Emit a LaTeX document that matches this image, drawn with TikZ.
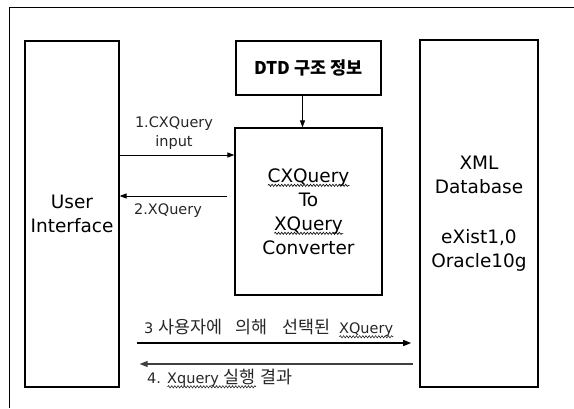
\documentclass[tikz,border=0pt]{standalone}
\usepackage{fontspec}
\setmainfont{DejaVu Sans}
\newfontfamily\kr{Noto Sans CJK KR}[Scale=1.2]
\newfontfamily\krb{Noto Sans CJK KR}
\usepackage{tikz}
\usetikzlibrary{arrows.meta,positioning,decorations.pathmorphing}
\tikzset{
  box/.style={draw,line width=1.2pt,inner sep=0pt,align=center,
    font=\fontsize{18.5}{24}\selectfont},
  lbl/.style={inner sep=1pt,align=center,text=black!85,
    font=\fontsize{14.5}{19}\selectfont},
  arr/.style={-{Triangle[length=7pt,width=5pt]},line width=1pt},
  arrb/.style={-{Triangle[length=8pt,width=6pt]},line width=1.3pt},
  squig/.style={line width=0.6pt,decorate,
    decoration={snake,amplitude=1.1pt,segment length=3.2pt}},
}
% wavy underline, as a spell checker draws it
\newcommand\wavy[1]{\setbox0\hbox{#1}%
  \rlap{\smash{\raisebox{-4.5pt}{\tikz\draw[squig] (0pt,0pt) -- (\the\wd0,0pt);}}}\box0\relax}

\begin{document}
\begin{tikzpicture}[x=1pt,y=-1pt]
    \useasboundingbox (0,0) rectangle (574,408);
    % outer frame (cut at right and bottom)
    \draw[line width=1pt] (574,7) -- (9,7) -- (9,408);
    % boxes
    \node[box,minimum width=94pt,minimum height=346pt] (ui) at (72,214)
      {User\\Interface};
    \node[box,minimum width=145pt,minimum height=54pt] (dtd) at (308.5,68)
      {\krb\fontsize{17.5}{20}\selectfont\bfseries DTD 구조 정보};
    \node[box,minimum width=147pt,minimum height=167pt] (conv) at (308.5,211.5)
      {\wavy{CXQuery}\\To\\\wavy{XQuery}\\Converter};
    \node[box,line width=1.6pt,minimum width=118pt,minimum height=347pt] (db) at (479,213.5)
      {XML\\Database\\[26pt]eXist1,0\\Oracle10g};
    % levels of the arrows
    \coordinate (q1) at (0,155);
    \coordinate (q2) at (0,196);
    \coordinate (q3) at (0,343);
    \coordinate (q4) at (0,364);
    % arrows
    \draw[arr] ([xshift=-6pt]dtd.south) -- ([xshift=-6pt]conv.north);
    \draw[arr] (ui.east |- q1) -- (conv.west |- q1);
    \draw[arr] ([xshift=-7pt]conv.west |- q2) -- (ui.east |- q2);
    \draw[arrb] ([xshift=17pt]ui.east |- q3) -- ([xshift=-8pt]db.west |- q3);
    \draw[arrb,black!75] ([xshift=-6pt]db.west |- q4) -- ([xshift=20pt]ui.east |- q4);
    % labels
    \node[lbl] (l1) at (174,133) {1.CXQuery\\input};
    \node[lbl] (l2) at (168,211) {2.XQuery};
    \node[lbl,anchor=west] (l3) at (143,328)
      {3 {\kr 사용자에\hspace{13pt}의해\hspace{15pt}선택된}\hspace{9pt}\wavy{XQuery}};
    \node[lbl,anchor=west] (l4) at (146,378)
      {4. \wavy{Xquery {\kr 실행}} {\kr 결과}};
  \end{tikzpicture}
\end{document}
